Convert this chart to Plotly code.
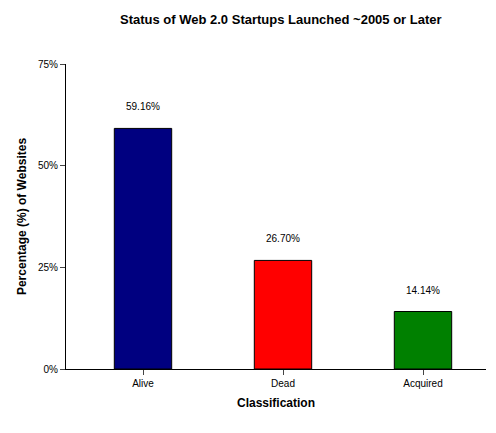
import plotly.graph_objects as go

categories = ["Alive", "Dead", "Acquired"]
values = [59.16, 26.70, 14.14]
colors = ["#000080", "#FF0000", "#008000"]
tick_vals = [0, 25, 50, 75]
tick_text = ["0%", "25%", "50%", "75%"]

fig = go.Figure(go.Bar(
    x=categories, y=values, marker=dict(color=colors, line=dict(color="black", width=1)),
    width=0.41, text=[f"{v:.2f}%<br> " for v in values], textposition="outside",
    textfont=dict(family="Arial", size=10, color="black"), cliponaxis=False))

fig.update_layout(
    width=496, height=433, paper_bgcolor="white", plot_bgcolor="white",
    margin=dict(l=58, r=18, t=56, b=72), showlegend=False,
    title=dict(text="<b>Status of Web 2.0 Startups Launched ~2005 or Later</b>",
               x=0.55, xanchor="center", y=0.985, yanchor="top",
               font=dict(family="Arial", size=13, color="black")),
    font=dict(family="Arial", color="black"),
    xaxis=dict(range=[-0.55, 2.45], showline=True, linecolor="black", ticks="outside",
               tickfont=dict(size=10), title=dict(text="<b>Classification</b>", font=dict(size=12), standoff=10)),
    yaxis=dict(range=[0, 75], tickvals=tick_vals, ticktext=tick_text, showline=True,
               linecolor="black", ticks="outside", showgrid=False, zeroline=False,
               tickfont=dict(size=10),
               title=dict(text="<b>Percentage (%) of Websites</b>", font=dict(size=12), standoff=8)),
)
fig.write_html("out.html")
